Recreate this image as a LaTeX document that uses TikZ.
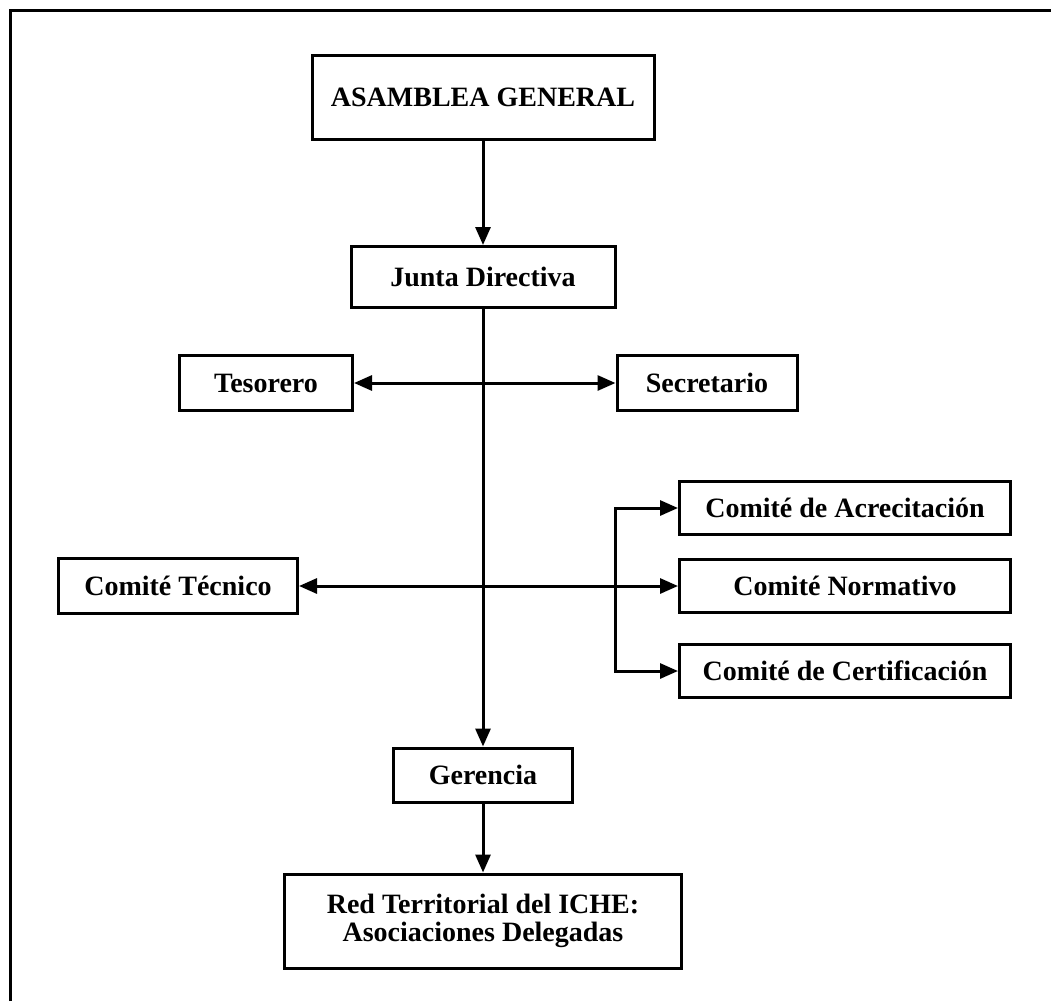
\documentclass[tikz,border=0pt]{standalone}
\usepackage{fontspec}
\setmainfont{Liberation Serif}
\usetikzlibrary{arrows.meta, positioning, calc}
\tikzset{
  every picture/.style={line width=3pt},
  box/.style={draw=black, align=center, inner sep=0pt, minimum width=#1, font=\bfseries\fontsize{28}{28}\selectfont},
  box/.default=180pt,
  arrow/.style={-{Triangle[length=18pt, width=15pt]}, draw=black, line width=3pt},
  twoway/.style={{Triangle[length=18pt, width=15pt]}-{Triangle[length=18pt, width=15pt]}, draw=black, line width=3pt},
}
\begin{document}
\begin{tikzpicture}[x=1pt, y=-1pt]
  \useasboundingbox (0,0) rectangle (1051,1001);
  % frame
  \draw[line width=3pt] (10,1001) -- (10,10) -- (1051,10);
  % boxes
  \node[box=342pt, minimum height=84pt] (asamblea) at (483,97) {ASAMBLEA GENERAL};
  \node[box=264pt, minimum height=61pt] (junta) at (483,277) {Junta Directiva};
  \node[box=173pt, minimum height=55pt] (tesorero) at (266,383) {Tesorero};
  \node[box=180pt, minimum height=55pt] (secretario) at (707,383) {Secretario};
  \node[box=331pt, minimum height=53pt] (acre) at (845,508) {Comité de Acrecitación};
  \node[box=331pt, minimum height=53pt] (normativo) at (845,586) {Comité Normativo};
  \node[box=331pt, minimum height=53pt] (cert) at (845,671) {Comité de Certificación};
  \node[box=239pt, minimum height=55pt] (tecnico) at (178,586) {Comité Técnico};
  \node[box=179pt, minimum height=54pt] (gerencia) at (483,775) {Gerencia};
  \node[box=397pt, minimum height=94pt] (red) at (483,921) {Red Territorial del ICHE:\\Asociaciones Delegadas};
  \coordinate (brk) at (615,586);
  % connectors
  \draw[arrow] (asamblea) -- (junta);
  \draw[arrow] (junta) -- (gerencia);
  \draw[arrow] (gerencia) -- (red);
  \draw[twoway] (tesorero) -- (secretario);
  \draw[twoway] (tecnico) -- (normativo);
  \draw[arrow] (cert.west -| brk) |- (acre.west);
  \draw[arrow] (acre.west -| brk) |- (cert.west);
\end{tikzpicture}
\end{document}
